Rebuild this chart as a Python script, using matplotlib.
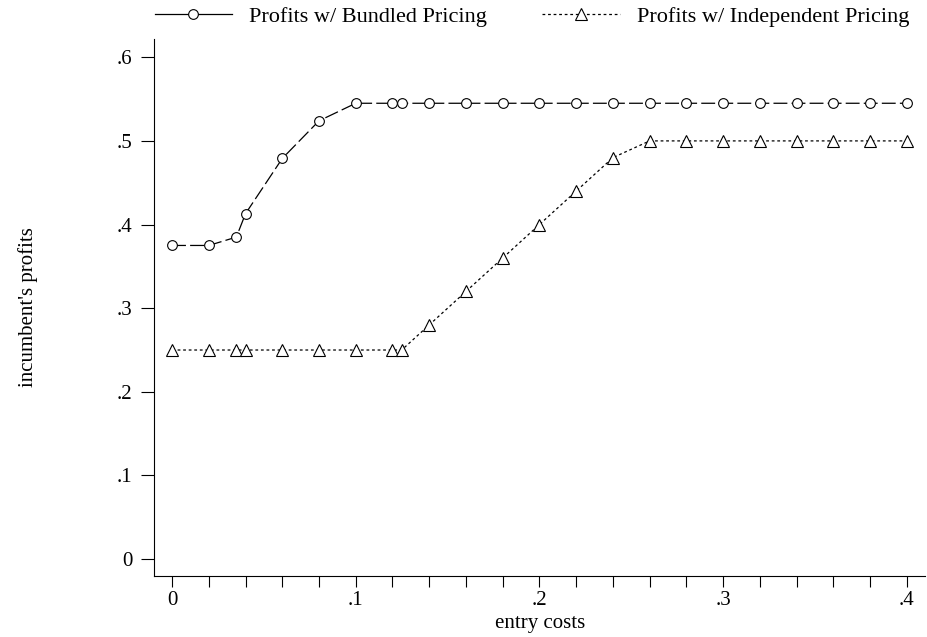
import matplotlib.pyplot as plt
from matplotlib.ticker import FixedLocator

plt.rcParams['font.family'] = ['Liberation Serif', 'DejaVu Serif']
plt.rcParams['lines.scale_dashes'] = False

# entry costs
x = [0, .02, .035, .04, .06, .08, .1, .12, .125, .14, .16, .18, .2,
     .22, .24, .26, .28, .3, .32, .34, .36, .38, .4]
# profits
bundled = [.375, .375, .385, .413, .479, .524, .545, .545, .545, .545, .545,
           .545, .545, .545, .545, .545, .545, .545, .545, .545, .545, .545, .545]
independent = [.25, .25, .25, .25, .25, .25, .25, .25, .25, .28, .32, .36, .40,
               .44, .48, .50, .50, .50, .50, .50, .50, .50, .50]

xticks = [0, .1, .2, .3, .4]
xtick_labels = ['0', '.1', '.2', '.3', '.4']
xminor = [.02, .04, .06, .08, .12, .14, .16, .18,
          .22, .24, .26, .28, .32, .34, .36, .38]
yticks = [0, .1, .2, .3, .4, .5, .6]
ytick_labels = ['0', '.1', '.2', '.3', '.4', '.5', '.6']

fig = plt.figure(figsize=(9.28, 6.37), dpi=100)
ax = fig.add_axes([0.166, 0.096, 0.831, 0.843])

ax.plot(x, bundled, color='black', lw=0.9, dashes=(10, 3),
        marker='o', ms=7, mfc='white', mec='black', mew=0.8,
        label='Profits w/ Bundled Pricing')
ax.plot(x, independent, color='black', lw=0.9, dashes=(2, 2),
        marker='^', ms=8, mfc='white', mec='black', mew=0.8,
        label='Profits w/ Independent Pricing')

ax.set_xlim(-0.0098, 0.41)
ax.set_ylim(-0.02, 0.622)
ax.set_xticks(xticks)
ax.set_xticklabels(xtick_labels)
ax.xaxis.set_minor_locator(FixedLocator(xminor))
ax.set_yticks(yticks)
ax.set_yticklabels(ytick_labels)
ax.tick_params(which='both', direction='out', width=0.8,
               labelsize=15, colors='black')
ax.tick_params(axis='x', which='both', length=8, pad=3)
ax.tick_params(axis='y', length=9.5, pad=6)

for s in ['top', 'right']:
    ax.spines[s].set_visible(False)
for s in ['left', 'bottom']:
    ax.spines[s].set_linewidth(0.8)

ax.set_xlabel('entry costs', fontsize=15, labelpad=2.5)
ax.set_ylabel("incumbent's profits", fontsize=15, labelpad=57)

leg = ax.legend(loc='lower center', bbox_to_anchor=(0.49, 1.006), ncol=2,
                frameon=False, fontsize=16, numpoints=1, handlelength=3.5,
                handletextpad=0.75, columnspacing=2.5, borderaxespad=0)
leg.get_lines()[0].set_linestyle('-')

fig.savefig('out.png', dpi=100)
